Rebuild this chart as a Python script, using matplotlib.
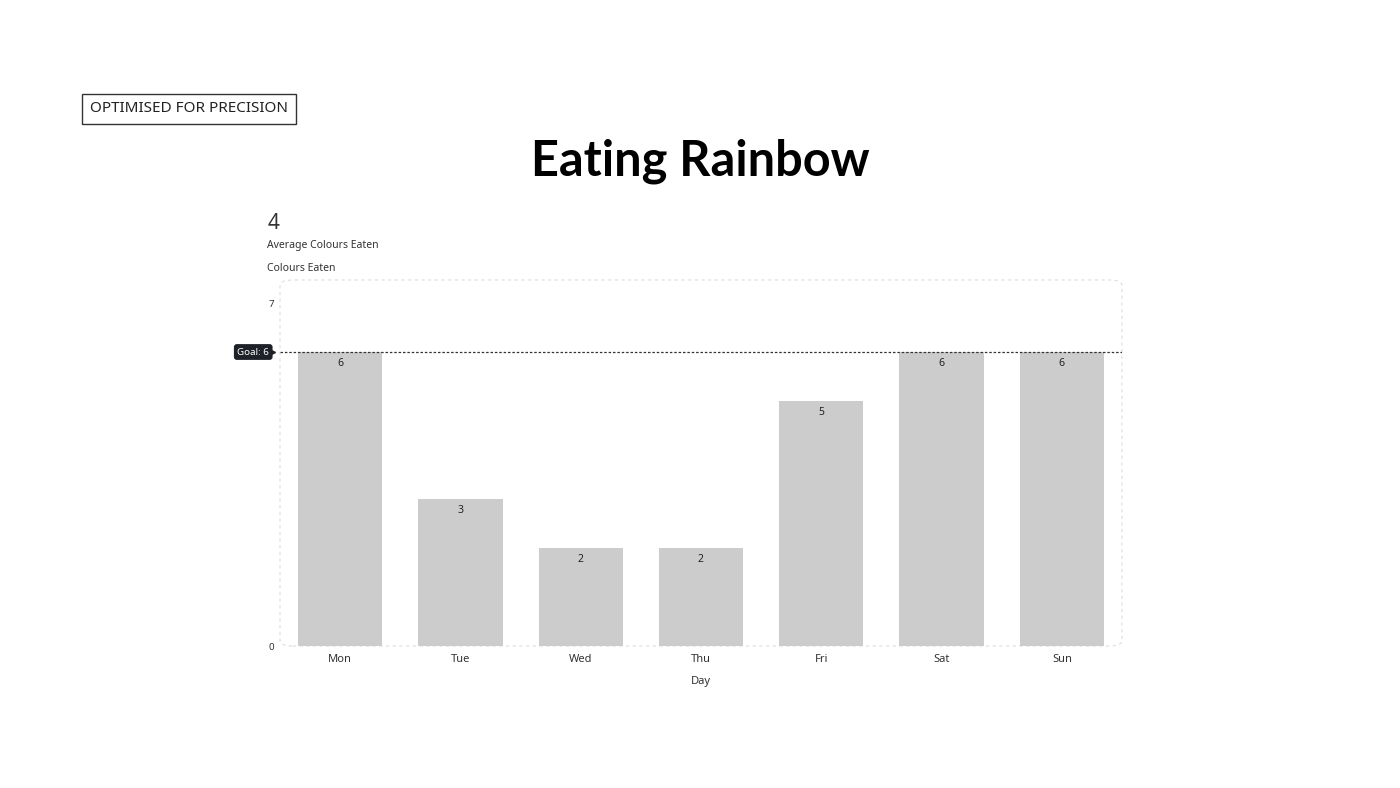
import matplotlib
matplotlib.use("Agg")
import matplotlib.pyplot as plt
from matplotlib.patches import FancyBboxPatch

days = ["Mon", "Tue", "Wed", "Thu", "Fri", "Sat", "Sun"]
colours = [6, 3, 2, 2, 5, 6, 6]
goal = 6
average = 4

plt.rcParams['font.family'] = ['Noto Sans', 'DejaVu Sans']
fig = plt.figure(figsize=(14, 7.88), dpi=100)
ax = fig.add_axes([0.2, 0.1802, 0.6014, 0.4645])
ax.set_xlim(-0.5, 6.5)
ax.set_ylim(0, 7.47)

x = list(range(len(days)))
ax.bar(x, colours, width=0.7, color="#cccccc", zorder=2)
for xi, v in zip(x, colours):
    ax.text(xi, v - 0.12, str(v), ha="center", va="top", fontsize=7.5, color="#222222", zorder=3)

ax.axhline(goal, color="#333333", linestyle=(0, (2, 1.5)), linewidth=0.9, zorder=4)
ax.text(-0.59, goal, "Goal: 6", ha="right", va="center", fontsize=7, color="white", zorder=6,
        bbox=dict(boxstyle="round,pad=0.35,rounding_size=0.3", fc="#1f2128", ec="none"),
        transform=ax.transData, clip_on=False)
ax.plot([-0.59], [goal], marker=">", markersize=9, color="#1f2128", clip_on=False, zorder=5)

ax.set_xticks(x)
ax.set_xticklabels(days, fontsize=8, color="#333333")
ax.set_yticks([0, 7])
ax.set_yticklabels(["0", "7"], fontsize=7, color="#333333")
ax.tick_params(length=0, pad=6)
ax.tick_params(axis="y", pad=4)
for s in ax.spines.values():
    s.set_visible(False)
ax.set_xlabel("Day", fontsize=8, color="#333333", labelpad=8)

border = FancyBboxPatch((0, 0), 1, 1, boxstyle="round,pad=0,rounding_size=0.015",
                        transform=ax.transAxes, fill=False, ec="#dddddd", lw=0.8,
                        linestyle=(0, (3, 3)), clip_on=False, zorder=1)
ax.add_patch(border)

fig.text(0.5, 0.796, "Eating Rainbow", ha="center", va="center", fontsize=35,
         fontweight="bold", family=["Lato", "DejaVu Sans"], color="#000000")
fig.text(0.135, 0.862, "OPTIMISED FOR PRECISION", ha="center", va="center", fontsize=11,
         color="#222222", fontweight="light",
         bbox=dict(boxstyle="square,pad=0.5", fc="white", ec="#333333", lw=1))
fig.text(0.191, 0.716, str(average), ha="left", va="center", fontsize=15, fontweight="bold", color="#333333")
fig.text(0.191, 0.689, "Average Colours Eaten", ha="left", va="center", fontsize=7.5, color="#333333")
fig.text(0.191, 0.659, "Colours Eaten", ha="left", va="center", fontsize=7.5, color="#333333")

fig.savefig("out.png", dpi=100, facecolor="white")
